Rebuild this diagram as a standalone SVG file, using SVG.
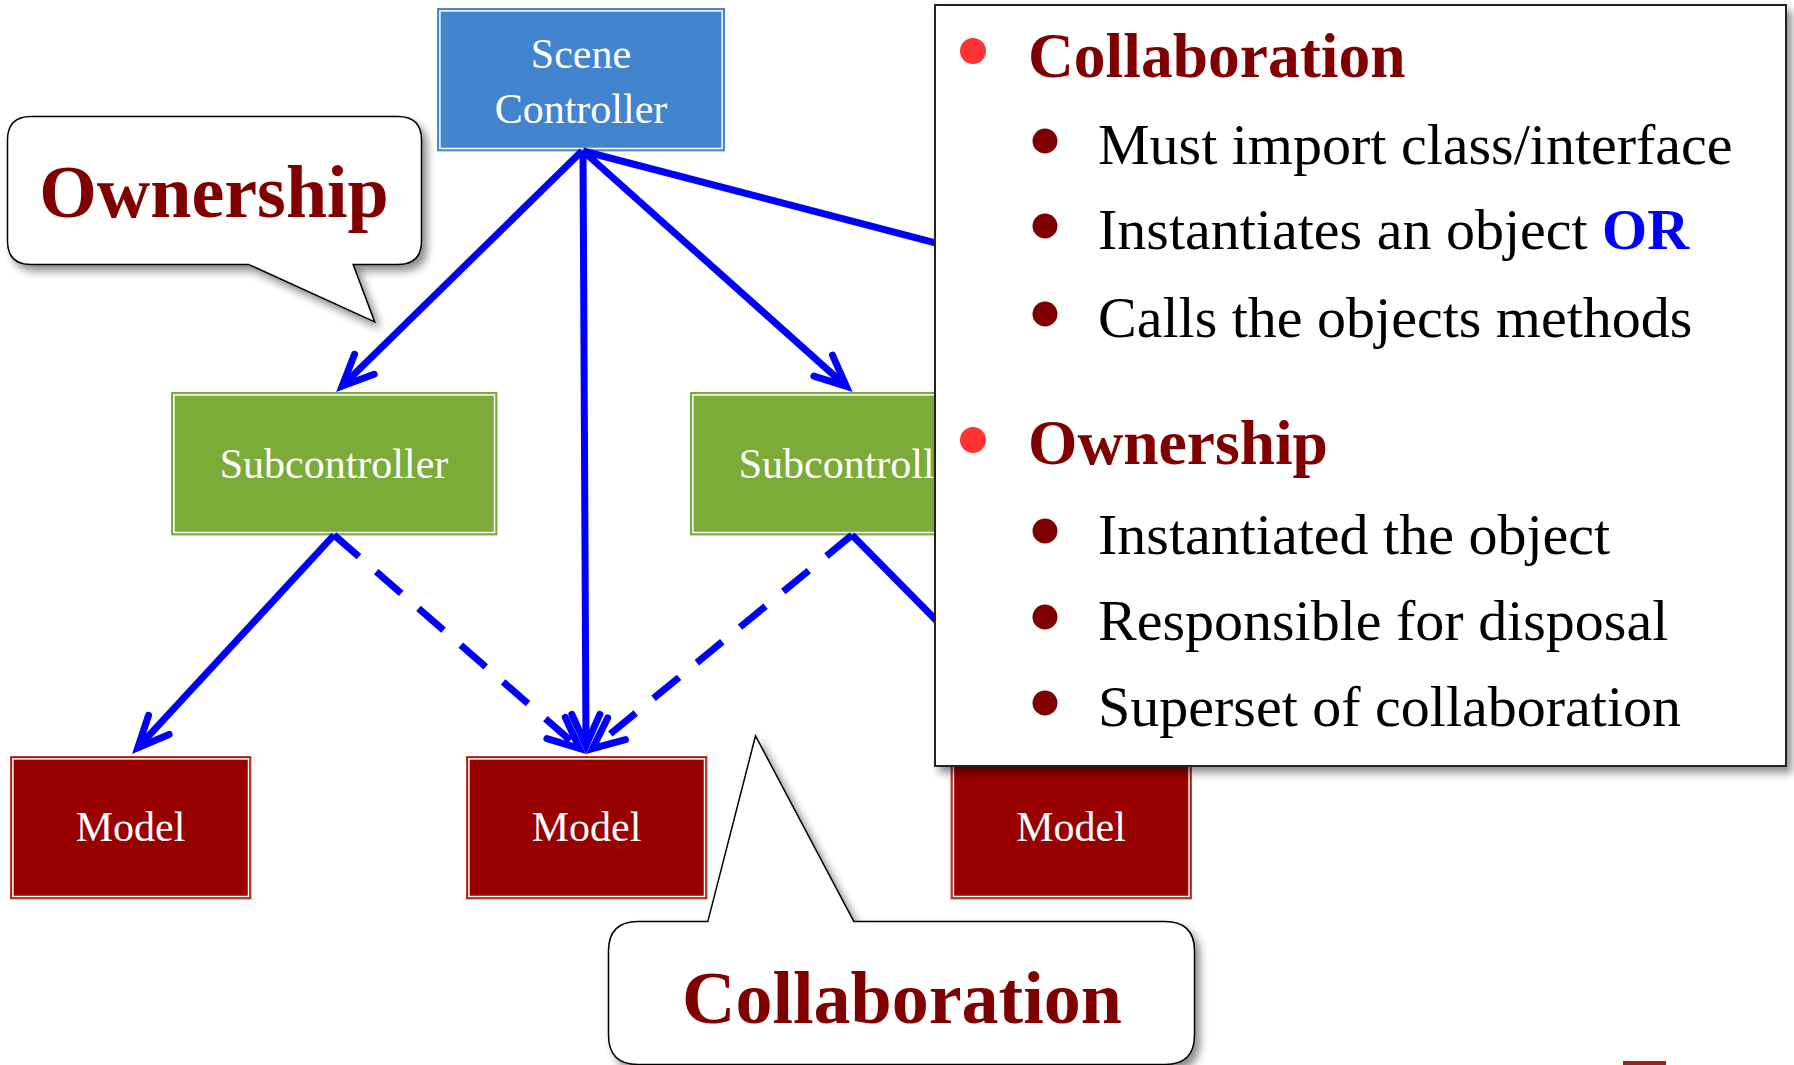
<svg xmlns="http://www.w3.org/2000/svg" width="1794" height="1065" viewBox="0 0 1794 1065">
<defs>
<style>
.lbl{font-family:"Liberation Serif","Times New Roman",serif;fill:#fff;font-size:42px;text-anchor:middle}
.conn{fill:none;stroke:#0000FF;stroke-width:7;stroke-linecap:butt}
.dash{stroke-dasharray:33 23}
.inner{fill:none;stroke:#fff;stroke-width:1.5}
.head{font-family:"Liberation Serif","Times New Roman",serif;font-weight:bold;fill:#800000;font-size:63.5px}
.item{font-family:"Liberation Serif","Times New Roman",serif;fill:#000;font-size:58px}
.big{font-family:"Liberation Serif","Times New Roman",serif;font-weight:bold;fill:#800000;font-size:74px;text-anchor:middle}
</style>
<marker id="ah" markerUnits="userSpaceOnUse" markerWidth="60" markerHeight="60" viewBox="-45 -30 60 60" refX="0" refY="0" orient="auto" overflow="visible">
<path d="M-31,-14 L0,0 L-31,14" fill="none" stroke="#0000FF" stroke-width="7" stroke-linecap="round" stroke-linejoin="miter"/>
</marker>
<filter id="sh" x="-10%" y="-10%" width="130%" height="130%">
<feGaussianBlur in="SourceAlpha" stdDeviation="4"/>
<feOffset dx="5" dy="6" result="o"/>
<feComponentTransfer><feFuncA type="linear" slope="0.45"/></feComponentTransfer>
<feMerge><feMergeNode/><feMergeNode in="SourceGraphic"/></feMerge>
</filter>
</defs>
<rect width="1794" height="1065" fill="#fff"/>

<g id="scene-controller">
<rect x="437.7" y="8.7" width="286.6" height="142" fill="#4384CE" stroke="#4A8AD6" stroke-width="1.4"/>
<rect x="439.9" y="10.9" width="282.2" height="137.6" class="inner"/>
<text class="lbl" x="581" y="68">Scene</text>
<text class="lbl" x="581" y="122.5">Controller</text>
</g>

<g id="subcontroller-1">
<rect x="171.7" y="392.7" width="325" height="142" fill="#7BAC39" stroke="#7BAC39" stroke-width="1.4"/>
<rect x="173.9" y="394.9" width="320.6" height="137.6" class="inner"/>
<text class="lbl" x="334" y="478">Subcontroller</text>
</g>

<g id="subcontroller-2">
<rect x="690.7" y="392.7" width="325" height="142" fill="#7BAC39" stroke="#7BAC39" stroke-width="1.4"/>
<rect x="692.9" y="394.9" width="320.6" height="137.6" class="inner"/>
<text class="lbl" x="853" y="478">Subcontroller</text>
</g>

<g id="model-1">
<rect x="10.7" y="756.7" width="240" height="142" fill="#990000" stroke="#C0392B" stroke-width="1.4"/>
<rect x="12.9" y="758.9" width="235.6" height="137.6" class="inner"/>
<text class="lbl" x="130.5" y="840.5">Model</text>
</g>

<g id="model-2">
<rect x="466.7" y="756.7" width="240" height="142" fill="#990000" stroke="#C0392B" stroke-width="1.4"/>
<rect x="468.9" y="758.9" width="235.6" height="137.6" class="inner"/>
<text class="lbl" x="586.5" y="840.5">Model</text>
</g>

<g id="model-3">
<rect x="951.2" y="756.7" width="240" height="142" fill="#990000" stroke="#C0392B" stroke-width="1.4"/>
<rect x="953.4" y="758.9" width="235.6" height="137.6" class="inner"/>
<text class="lbl" x="1071" y="840.5">Model</text>
</g>

<g id="connectors">
<line class="conn" x1="582" y1="151" x2="342.2" y2="386" marker-end="url(#ah)"/>
<line class="conn" x1="583" y1="151" x2="586" y2="745.4" marker-end="url(#ah)"/>
<line class="conn" x1="583" y1="151" x2="846.3" y2="386.3" marker-end="url(#ah)"/>
<line class="conn" x1="583" y1="151" x2="1300" y2="338"/>
<line class="conn" x1="334" y1="535" x2="137.8" y2="747.7" marker-end="url(#ah)"/>
<line class="conn dash" x1="334" y1="535" x2="579.5" y2="748.3" marker-end="url(#ah)"/>
<line class="conn dash" x1="852" y1="535" x2="592.6" y2="748.5" marker-end="url(#ah)"/>
<line class="conn" x1="852" y1="535" x2="1064" y2="750" marker-end="url(#ah)"/>
</g>

<g id="callout-ownership">
<path filter="url(#sh)" d="M31,118 H398 Q420,118 420,140 V241 Q420,263 398,263 H351 L372,319 L249,263 H31 Q9,263 9,241 V140 Q9,118 31,118 Z" fill="#fff" stroke="#000" stroke-width="4.5"/>
<path d="M31,118 H398 Q420,118 420,140 V241 Q420,263 398,263 H351 L372,319 L249,263 H31 Q9,263 9,241 V140 Q9,118 31,118 Z" fill="#fff" stroke="#fff" stroke-width="1.5"/>
<text class="big" x="214" y="217">Ownership</text>
</g>

<g id="callout-collaboration">
<path filter="url(#sh)" d="M638,923 H709 L756,740 L853,923 H1165 Q1193,923 1193,951 V1035 Q1193,1063 1165,1063 H638 Q610,1063 610,1035 V951 Q610,923 638,923 Z" fill="#fff" stroke="#000" stroke-width="4.5"/>
<path d="M638,923 H709 L756,740 L853,923 H1165 Q1193,923 1193,951 V1035 Q1193,1063 1165,1063 H638 Q610,1063 610,1035 V951 Q610,923 638,923 Z" fill="#fff" stroke="#fff" stroke-width="1.5"/>
<text class="big" x="902" y="1023">Collaboration</text>
</g>

<g id="info-panel">
<rect x="935" y="5" width="851" height="761" fill="#fff" stroke="#222" stroke-width="2" filter="url(#sh)"/>
<circle cx="973" cy="51" r="13" fill="#FF3333"/>
<text class="head" x="1028" y="77">Collaboration</text>
<circle cx="1045" cy="141" r="12.5" fill="#7F0000"/>
<text class="item" x="1098" y="164">Must import class/interface</text>
<circle cx="1045" cy="226" r="12.5" fill="#7F0000"/>
<text class="item" x="1098" y="249">Instantiates an object <tspan font-weight="bold" fill="#0000FF">OR</tspan></text>
<circle cx="1045" cy="314" r="12.5" fill="#7F0000"/>
<text class="item" x="1098" y="337">Calls the objects methods</text>
<circle cx="973" cy="440" r="13" fill="#FF3333"/>
<text class="head" x="1028" y="464">Ownership</text>
<circle cx="1045" cy="531" r="12.5" fill="#7F0000"/>
<text class="item" x="1098" y="554">Instantiated the object</text>
<circle cx="1045" cy="617" r="12.5" fill="#7F0000"/>
<text class="item" x="1098" y="640">Responsible for disposal</text>
<circle cx="1045" cy="703" r="12.5" fill="#7F0000"/>
<text class="item" x="1098" y="726">Superset of collaboration</text>
</g>

<rect x="1623" y="1061" width="43" height="4" fill="#98231D"/>
</svg>
